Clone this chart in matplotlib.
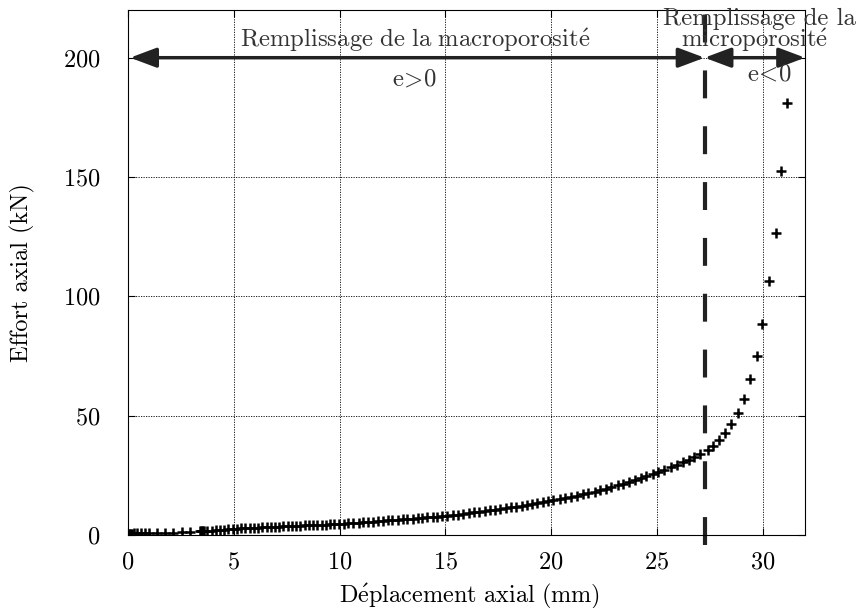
import matplotlib
matplotlib.use('Agg')
import matplotlib.pyplot as plt

# Effort axial vs deplacement axial
depl = [0.0, 0.05, 0.1, 0.15, 0.2, 0.3, 0.45, 0.6, 0.8, 1.0, 1.35, 1.75, 2.15, 2.55, 2.95,
        3.4, 3.45, 3.5, 3.55, 3.6, 3.75, 3.95, 4.15, 4.35, 4.55, 4.75, 4.95,
        5.15, 5.35, 5.55, 5.75, 5.95, 6.15, 6.35, 6.55, 6.75, 6.95, 7.15, 7.35, 7.55, 7.75,
        7.95, 8.15, 8.35, 8.55, 8.75, 8.95, 9.15, 9.35, 9.55, 9.75, 9.95,
        10.2, 10.4, 10.65, 10.9, 11.1, 11.35, 11.6, 11.8, 12.05, 12.3, 12.5, 12.75, 13.0,
        13.2, 13.45, 13.7, 13.9, 14.15, 14.4, 14.6, 14.85, 15.1,
        15.35, 15.6, 15.85, 16.1, 16.35, 16.6, 16.85, 17.1, 17.35, 17.6, 17.85, 18.1,
        18.35, 18.6, 18.85, 19.1, 19.35, 19.6, 19.85, 20.1,
        20.4, 20.65, 20.95, 21.2, 21.5, 21.75, 22.05, 22.3, 22.6, 22.85, 23.15, 23.4,
        23.7, 23.95, 24.25, 24.5, 24.8, 25.05,
        25.35, 25.65, 25.95, 26.25, 26.5, 26.75, 27.05, 27.4, 27.65, 27.92,
        28.2, 28.52, 28.83, 29.11, 29.41, 29.71, 29.98, 30.28, 30.61, 30.86, 31.16]
effort = [0.3, 0.4, 0.5, 0.55, 0.6, 0.65, 0.7, 0.72, 0.75, 0.8, 0.85, 0.95, 1.05, 1.15, 1.25,
          1.5, 1.5, 1.55, 1.55, 1.6, 1.7, 1.85, 2.0, 2.15, 2.3, 2.45, 2.55,
          2.65, 2.75, 2.85, 2.95, 3.05, 3.12, 3.2, 3.28, 3.36, 3.44, 3.52, 3.6, 3.68, 3.76,
          3.84, 3.92, 4.0, 4.08, 4.16, 4.24, 4.32, 4.4, 4.48, 4.56, 4.65,
          4.75, 4.9, 5.05, 5.2, 5.35, 5.5, 5.65, 5.8, 5.95, 6.1, 6.25, 6.4, 6.55,
          6.7, 6.85, 7.0, 7.15, 7.35, 7.55, 7.7, 7.9, 8.1,
          8.35, 8.6, 8.9, 9.15, 9.45, 9.75, 10.05, 10.35, 10.65, 10.95, 11.25, 11.55,
          11.9, 12.25, 12.6, 12.95, 13.3, 13.7, 14.1, 14.5,
          15.0, 15.5, 16.0, 16.5, 17.0, 17.5, 18.1, 18.7, 19.4, 20.1, 20.8, 21.5,
          22.3, 23.0, 23.9, 24.7, 25.6, 26.4,
          27.3, 28.3, 29.4, 30.5, 31.5, 32.6, 33.9, 35.8, 37.4, 39.8,
          42.8, 46.4, 51.2, 56.9, 65.3, 75.2, 88.3, 106.4, 126.7, 152.4, 180.9]

x_limite = 27.25   # passage e>0 / e<0
x_ticks = [0, 5, 10, 15, 20, 25, 30]
y_ticks = [0, 50, 100, 150, 200]

plt.rcParams['font.family'] = ['cmr10', 'DejaVu Serif']
plt.rcParams['mathtext.fontset'] = 'cm'
plt.rcParams['axes.formatter.use_mathtext'] = True

fig = plt.figure(figsize=(8.56, 6.08), dpi=100)
ax = fig.add_axes([0.1495, 0.12, 0.791, 0.8636])

ax.plot(depl, effort, '+', color='black', markersize=7, markeredgewidth=1.8)

# separation verticale
ax.plot([x_limite, x_limite], [-4.2, 220], color='#222222', linewidth=3,
        dashes=(6.7, 6.7), clip_on=False)

# fleches
arrow = dict(arrowstyle='<|-|>,head_length=1.6,head_width=0.6',
             color='#222222', lw=2.5, shrinkA=0, shrinkB=0)
ax.annotate('', xy=(0.1, 200), xytext=(x_limite, 200), arrowprops=arrow)
ax.annotate('', xy=(x_limite, 200), xytext=(32, 200), arrowprops=arrow)

txt = dict(ha='center', va='center', fontsize=17.8, color='#333333', clip_on=False)
ax.text(13.56, 207.5, r'$\mathrm{Remplissage\ de\ la\ macroporosit\acute{e}}$', **txt)
ax.text(13.56, 191, r'$\mathrm{e}\!>\!\mathrm{0}$', **txt)
ax.text(29.85, 216.3, 'Remplissage de la', **txt)
ax.text(29.6, 207.5, r'$\mathrm{microporosit\acute{e}}$', **txt)
ax.text(30.3, 193, r'$\mathrm{e}\!<\!\mathrm{0}$', **txt)

ax.set_xlim(0, 32)
ax.set_ylim(0, 220)
ax.set_xticks(x_ticks)
ax.set_yticks(y_ticks)
ax.tick_params(direction='in', length=5, width=0.8, top=True, right=True,
               labelsize=17.5)
ax.tick_params(axis='x', pad=12)
ax.tick_params(axis='y', pad=20)
ax.grid(True, color='black', linestyle=(0, (1.5, 1.5)), linewidth=0.6)
ax.set_axisbelow(True)

ax.set_xlabel(r'$\mathrm{D\acute{e}placement\ axial\ (mm)}$', fontsize=17.5)
ax.set_ylabel('Effort axial (kN)', fontsize=17.5)
ax.xaxis.set_label_coords(0.505, -0.089)
ax.yaxis.set_label_coords(-0.138, 0.5)

fig.savefig('out.png', dpi=100)
